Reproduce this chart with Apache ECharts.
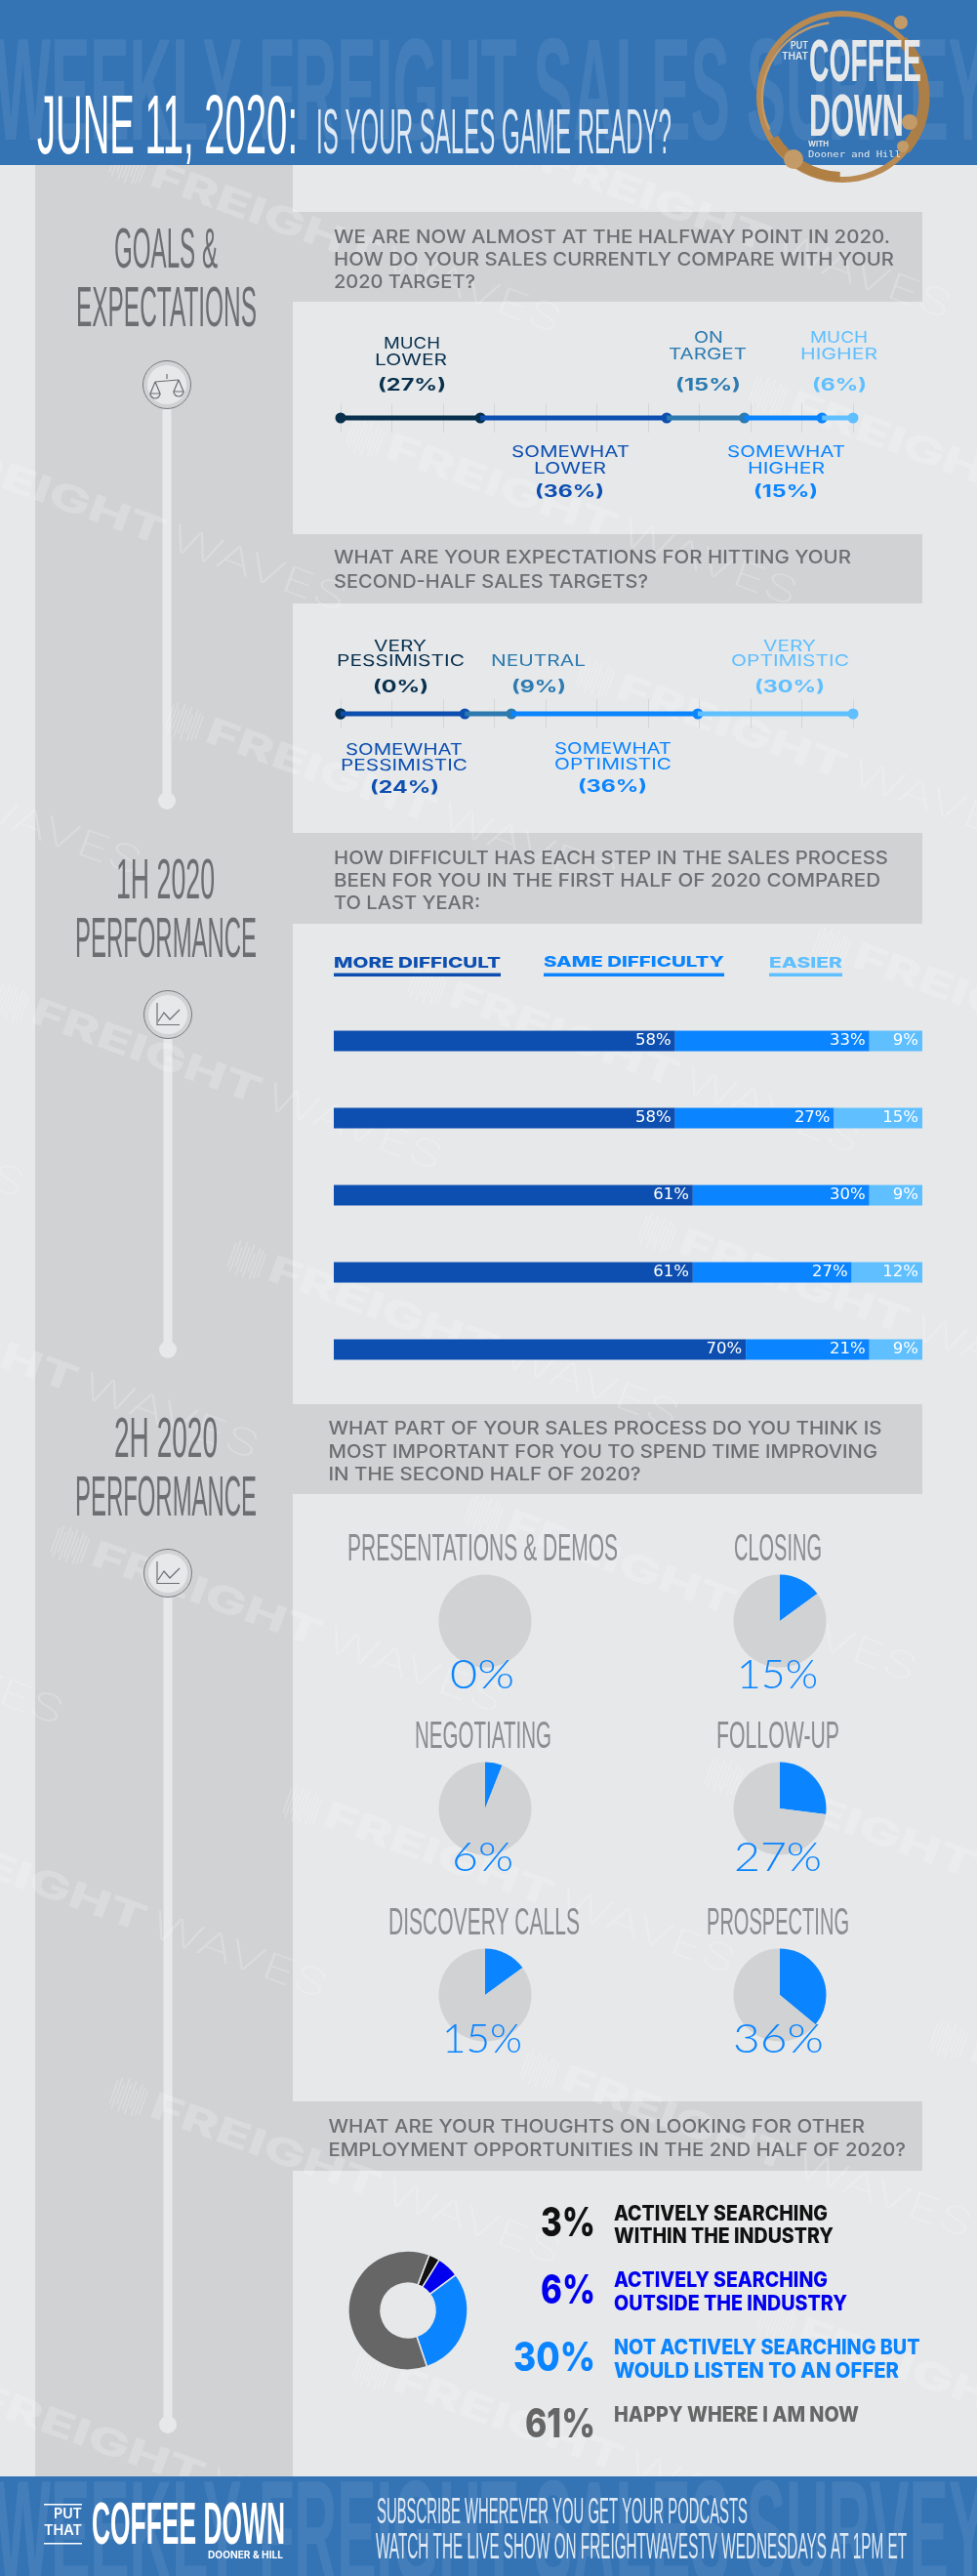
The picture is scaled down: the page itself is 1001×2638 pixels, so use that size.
<!DOCTYPE html>
<html>
<head>
<meta charset="utf-8">
<style>html,body{margin:0;padding:0;background:#e6e8ea}#main{width:1001px;height:2638px}</style>
<script src="https://cdn.jsdelivr.net/npm/echarts@6/dist/echarts.min.js"></script>
</head>
<body>
<div id="main"></div>
<script>
// survey values
const q1Cats = ['MUCH LOWER', 'SOMEWHAT LOWER', 'ON TARGET', 'SOMEWHAT HIGHER', 'MUCH HIGHER'];
const q1Values = [27, 36, 15, 15, 6];
const q2Cats = ['VERY PESSIMISTIC', 'SOMEWHAT PESSIMISTIC', 'NEUTRAL', 'SOMEWHAT OPTIMISTIC', 'VERY OPTIMISTIC'];
const q2Values = [0, 24, 9, 36, 30];
const stepNames = ['Step 1', 'Step 2', 'Step 3', 'Step 4', 'Step 5'];
const moreDifficult = [58, 58, 61, 61, 70];
const sameDifficulty = [33, 27, 30, 27, 21];
const easier = [9, 15, 9, 12, 9];
const focusCats = ['PRESENTATIONS & DEMOS', 'CLOSING', 'NEGOTIATING', 'FOLLOW-UP', 'DISCOVERY CALLS', 'PROSPECTING'];
const focusValues = [0, 15, 6, 27, 15, 36];
const jobCats = [['ACTIVELY SEARCHING', 'WITHIN THE INDUSTRY'], ['ACTIVELY SEARCHING', 'OUTSIDE THE INDUSTRY'], ['NOT ACTIVELY SEARCHING BUT', 'WOULD LISTEN TO AN OFFER'], ['HAPPY WHERE I AM NOW']];
const jobValues = [3, 6, 30, 61];
const questions = [
  ['WE ARE NOW ALMOST AT THE HALFWAY POINT IN 2020.', 'HOW DO YOUR SALES CURRENTLY COMPARE WITH YOUR', '2020 TARGET?'],
  ['WHAT ARE YOUR EXPECTATIONS FOR HITTING YOUR', 'SECOND-HALF SALES TARGETS?'],
  ['HOW DIFFICULT HAS EACH STEP IN THE SALES PROCESS', 'BEEN FOR YOU IN THE FIRST HALF OF 2020 COMPARED', 'TO LAST YEAR:'],
  ['WHAT PART OF YOUR SALES PROCESS DO YOU THINK IS', 'MOST IMPORTANT FOR YOU TO SPEND TIME IMPROVING', 'IN THE SECOND HALF OF 2020?'],
  ['WHAT ARE YOUR THOUGHTS ON LOOKING FOR OTHER', 'EMPLOYMENT OPPORTUNITIES IN THE 2ND HALF OF 2020?']
];

// colours
const BG = '#e6e8ea', PANEL = '#d0d2d4', HEAD = '#3474b5', GREY = '#6d6e71';
const tlColors = ['#08304d', '#0d4fb0', '#2c7ab0', '#0a84ff', '#5fbfff'];
const NARROW = '"Liberation Sans"', SANS = 'Inter';

const measure = document.createElement('canvas').getContext('2d');
const gfx = [];

// text squeezed or stretched so it spans x0..x1 like the reference lettering.
// cy is the middle of the capitals, the nudge moves the em box to match
function put(text, x0, x1, cy, size, family, weight, fill, z) {
  const font = weight + ' ' + size + 'px ' + family;
  measure.font = font;
  const w = measure.measureText(text).width;
  const el = {
    type: 'text', x: x0, y: cy + size * 0.08, scaleX: (x1 - x0) / w, z: z === undefined ? 10 : z, silent: true,
    style: { text, font, fill, align: 'left', verticalAlign: 'middle' }
  };
  gfx.push(el);
  return el;
}
function rect(x, y, w, h, fill, z) {
  gfx.push({ type: 'rect', shape: { x, y, width: w, height: h }, style: { fill }, z, silent: true });
}

// page panels
rect(36, 0, 264, 2638, PANEL, -10);
[[217, 92], [547, 71], [853, 93], [1438, 92], [2152, 71]].forEach(b => rect(300, b[0], 645, b[1], PANEL, -10));

// faint diagonal brand marks
const markStarts = [[160, 165], [560, 150], [402, 444], [815, 400], [-60, 450], [217, 735], [638, 690], [880, 965],
  [-270, 720], [466, 1005], [38, 1022], [-390, 1050], [281, 1286], [702, 1258], [-150, 1318], [100, 1578], [524, 1546],
  [-350, 1590], [770, 1815], [338, 1845], [-80, 1870], [1000, 2085], [581, 2115], [160, 2143], [-430, 2130], [824, 2373],
  [409, 2423], [-20, 2440]];
const barSizes = [26, 34, 22, 36, 28, 36, 20, 34, 30, 26];
markStarts.forEach(p => {
  const ink = 'rgba(255,255,255,0.2)';
  const kids = [];
  barSizes.forEach((h, i) => kids.push({ type: 'rect', z: -5, silent: true, shape: { x: -42 + i * 3.6, y: 14 - h / 2, width: 1.8, height: h }, style: { fill: ink } }));
  measure.font = '800 38px ' + SANS;
  const fw = measure.measureText('FREIGHT').width;
  kids.push({ type: 'text', x: 0, y: 14, scaleX: 248 / fw, z: -5, silent: true, style: { text: 'FREIGHT', font: '800 38px ' + SANS, fill: ink, align: 'left', verticalAlign: 'middle' } });
  measure.font = '200 38px ' + SANS;
  const ww = measure.measureText('WAVES').width;
  kids.push({ type: 'text', x: 256, y: 14, scaleX: 190 / ww, z: -5, silent: true, style: { text: 'WAVES', font: '200 38px ' + SANS, fill: ink, align: 'left', verticalAlign: 'middle' } });
  gfx.push({ type: 'group', x: p[0], y: p[1], rotation: -0.35, silent: true, children: kids });
});

// header and footer bands
rect(0, 0, 1001, 169, HEAD, -4);
rect(0, 2536, 1001, 102, HEAD, -4);
put('WEEKLY FREIGHT SALES SURVEY', -5, 1012, 90, 148, NARROW, 'bold', 'rgba(255,255,255,0.08)', -3);
put('WEEKLY FREIGHT SALES SURVEY', -5, 1012, 2591, 148, NARROW, 'bold', 'rgba(255,255,255,0.08)', -3);
put('JUNE 11, 2020:', 38, 305, 126, 86, NARROW, 'normal', '#ffffff');
put('IS YOUR SALES GAME READY?', 324, 688, 134, 64, NARROW, 'normal', '#dfe9f4');

// coffee ring logo
const RING = '#b98a52';
function arc(cx, cy, r, a0, a1, width, color) {
  gfx.push({ type: 'arc', z: 5, silent: true, shape: { cx, cy, r, startAngle: a0, endAngle: a1 }, style: { stroke: color, lineWidth: width, fill: 'none' } });
}
arc(863, 99, 85, 0, Math.PI * 2, 6, RING);
arc(858, 100, 77, 2.7, 4.6, 2.5, '#c49a66');
arc(863, 99, 84, -0.75, 0.7, 11, '#ad7f48');
arc(863, 99, 82, 1.6, 2.6, 10, '#b07f44');
[[923, 23, 7], [932, 125, 8], [813, 163, 10], [925, 150, 6]].forEach(b => {
  gfx.push({ type: 'circle', z: 5, silent: true, shape: { cx: b[0], cy: b[1], r: b[2] }, style: { fill: '#c39b68' } });
});
put('COFFEE', 829, 944, 61, 62, NARROW, 'bold', '#e6e8ea', 6);
put('DOWN', 829, 926, 117, 62, NARROW, 'bold', '#e6e8ea', 6);
put('PUT', 810, 828, 46, 10, SANS, '600', '#e6e8ea', 6);
put('THAT', 801, 828, 57, 10, SANS, '600', '#e6e8ea', 6);
put('WITH', 828, 849, 147, 8, SANS, '700', '#e6e8ea', 6);
put('Dooner and Hill', 828, 923, 158, 9, '"DejaVu Sans Mono"', 'normal', '#e6e8ea', 6);

// left column headings
put('GOALS &', 117, 223, 254, 57, NARROW, 'normal', GREY);
put('EXPECTATIONS', 78, 263, 314, 57, NARROW, 'normal', GREY);
put('1H 2020', 119, 220, 900, 57, NARROW, 'normal', GREY);
put('PERFORMANCE', 77, 263, 960, 57, NARROW, 'normal', GREY);
put('2H 2020', 117, 223, 1472, 57, NARROW, 'normal', GREY);
put('PERFORMANCE', 77, 263, 1532, 57, NARROW, 'normal', GREY);

// rails with their icons, icons built from polylines around the circle centre
const ICON_STROKE = { stroke: '#6d6e71', lineWidth: 1.2, fill: 'none' };
function chartIcon(x, y) {
  [[[-11, -12], [-11, 10.5], [12, 10.5]], [[-10, 7], [-4, -2], [2, 5], [12, -5]]].forEach(pts => {
    gfx.push({ type: 'polyline', z: 4, silent: true, x, y, shape: { points: pts }, style: ICON_STROKE });
  });
}
function scaleIcon(x, y) {
  [[[0, -11], [0, -6]], [[-12, -3], [12, -5]], [[-12, -3], [-17, 9], [-7, 9], [-12, -3]], [[12, -5], [7, 7], [17, 7], [12, -5]]].forEach(pts => {
    gfx.push({ type: 'polyline', z: 4, silent: true, x, y, shape: { points: pts }, style: ICON_STROKE });
  });
  [[-12, 9], [12, 7]].forEach(c => {
    gfx.push({ type: 'arc', z: 4, silent: true, x, y, shape: { cx: c[0], cy: c[1], r: 5, startAngle: 0, endAngle: Math.PI, clockwise: true }, style: ICON_STROKE });
  });
}
[[171, 394, 820, scaleIcon], [172, 1039, 1382, chartIcon], [172, 1611, 2483, chartIcon]].forEach(r => {
  const x = r[0], y = r[1], end = r[2];
  rect(x - 4.5, y, 9, end - y, BG, -9);
  gfx.push({ type: 'circle', z: -9, silent: true, shape: { cx: x, cy: end, r: 9 }, style: { fill: BG } });
  gfx.push({ type: 'circle', z: 3, silent: true, shape: { cx: x, cy: y, r: 24.5 }, style: { fill: PANEL, stroke: '#77797c', lineWidth: 1 } });
  gfx.push({ type: 'circle', z: 3, silent: true, shape: { cx: x, cy: y, r: 20 }, style: { fill: BG } });
  r[3](x, y);
});

// question bands
const qLines = [
  [[342, 912, 242], [342, 916, 265], [342, 487, 288]],
  [[342, 872, 570], [342, 664, 594.5]],
  [[342, 910, 877.5], [342, 902, 900.5], [342, 492, 923.5]],
  [[336.5, 903.5, 1462], [336.5, 899, 1486], [336.5, 656.5, 1509]],
  [[336.5, 886, 2177], [336.5, 928, 2201]]
];
questions.forEach((lines, i) => lines.forEach((t, j) => {
  const l = qLines[i][j];
  put(t, l[0], l[1], l[2], 19, SANS, '500', GREY);
}));

// timeline captions: [line 1], [line 2], [percent]
const q1Pos = [
  [[393, 451, 351], [384, 458, 368], [387, 457, 394]],
  [[524, 645, 462], [547, 621, 479], [548, 619, 503]],
  [[711, 741, 345], [685, 765, 362], [692, 759, 394]],
  [[745, 866, 462], [766, 845, 479], [772, 838, 503]],
  [[830, 889, 345], [820, 899, 362], [832, 888, 394]]
];
const q2Pos = [
  [[383, 437, 660.5], [345, 476, 676], [382, 439, 702.5]],
  [[354, 474, 767], [349, 479, 783.4], [379, 450, 806]],
  [[503, 600, 676], null, [524, 580, 702.5]],
  [[568, 688, 766], [568, 688, 782], [592, 663, 805]],
  [[782, 836, 660.5], [749, 870, 676], [773, 845, 702.5]]
];
function captions(cats, values, pos) {
  cats.forEach((c, i) => {
    const words = c.split(' ');
    const col = tlColors[i];
    words.forEach((w, j) => { const l = pos[i][j]; put(w, l[0], l[1], l[2], 16, SANS, '400', col); });
    const p = pos[i][2];
    put('(' + values[i] + '%)', p[0], p[1], p[2], 17, SANS, '700', col);
  });
}
captions(q1Cats, q1Values, q1Pos);
captions(q2Cats, q2Values, q2Pos);

// bar legend
const barColors = ['#0d4fb0', '#0a84ff', '#5fbfff'];
[['MORE DIFFICULT', 342, 513, 985.5], ['SAME DIFFICULTY', 557, 742, 984.5], ['EASIER', 788, 863, 985.5]].forEach((l, i) => {
  put(l[0], l[1], l[2], l[3], 15, SANS, '800', barColors[i]);
  rect(l[1], 996.5, l[2] - l[1], 3.5, barColors[i], 1);
});

// pie captions
const focusPos = [
  [[356, 633, 1584], [461, 527, 1712]], [[752, 842, 1584], [755, 838, 1712]],
  [[425, 565, 1776], [463, 526, 1899]], [[734, 860, 1776], [752, 842, 1899]],
  [[398, 594, 1967.5], [453, 535, 2085]], [[724, 870, 1967.5], [751, 844, 2085]]
];
focusCats.forEach((c, i) => {
  const t = focusPos[i][0], p = focusPos[i][1];
  put(c, t[0], t[1], t[2], 39, NARROW, 'normal', '#8b8d90');
  put(focusValues[i] + '%', p[0], p[1], p[2], 42, 'Lato', '300', '#0a84ff');
});

// donut captions
const jobColors = ['#111111', '#0000ee', '#0a84ff', '#666666'];
const jobPct = [[554, 2274], [554, 2343], [526, 2412], [538, 2480]];
const jobText = [
  [[629, 848, 2266], [629, 854, 2289]], [[629, 848, 2334], [629, 868, 2358]],
  [[629, 942.5, 2403], [629, 921, 2427]], [[629, 880, 2472]]
];
jobValues.forEach((v, i) => {
  put(v + '%', jobPct[i][0], 610, jobPct[i][1], 41, SANS, '800', jobColors[i]);
  jobCats[i].forEach((t, j) => { const l = jobText[i][j]; put(t, l[0], l[1], l[2], 21, SANS, '800', jobColors[i]); });
});

// footer
put('PUT', 55, 84, 2574, 14, SANS, '600', '#ffffff');
put('THAT', 45, 84, 2591, 14, SANS, '600', '#ffffff');
rect(45, 2564, 39, 1.5, '#ffffff', 10);
rect(45, 2604, 39, 1.5, '#ffffff', 10);
put('COFFEE DOWN', 94, 292, 2582.5, 62, NARROW, 'bold', '#ffffff');
put('DOONER & HILL', 213, 290, 2616.5, 10, SANS, '700', '#ffffff');
put('SUBSCRIBE WHEREVER YOU GET YOUR PODCASTS', 386, 766, 2571, 36, NARROW, 'normal', '#dfe9f4');
put('WATCH THE LIVE SHOW ON FREIGHTWAVESTV WEDNESDAYS AT 1PM ET', 385, 929, 2607, 36, NARROW, 'normal', '#dfe9f4');

// timeline series, one per answer, running along a 0..total axis
function timeline(values, gridIndex) {
  let run = 0;
  return values.map((v, i) => {
    const from = run;
    run += v;
    return {
      type: 'line', xAxisIndex: gridIndex, yAxisIndex: gridIndex, z: 3 + i, silent: true,
      lineStyle: { color: tlColors[i], width: 5 },
      itemStyle: { color: tlColors[i] }, symbolSize: 11, showSymbol: true,
      data: [{ value: [from, 0], symbol: i === 0 ? 'circle' : 'none' }, { value: [run, 0], symbol: 'circle' }]
    };
  });
}
function tlXAxis(gridIndex, values) {
  const total = values.reduce((a, b) => a + b, 0);
  return {
    type: 'value', gridIndex, min: 0, max: total, interval: total / 10,
    axisLine: { show: false }, axisTick: { show: false }, axisLabel: { show: false },
    splitLine: { show: true, lineStyle: { color: '#d4d6d8', width: 1 } }
  };
}
const hiddenY = i => ({ type: 'value', gridIndex: i, min: -1, max: 1, show: false });

const stacked = [[moreDifficult, 'More difficult'], [sameDifficulty, 'Same difficulty'], [easier, 'Easier']].map((s, i) => ({
  type: 'bar', name: s[1], stack: 'steps', xAxisIndex: 2, yAxisIndex: 2, barWidth: 21, silent: true,
  itemStyle: { color: barColors[i] }, data: s[0],
  label: { show: true, position: 'insideRight', distance: 4, formatter: '{c}%', color: '#fff', fontFamily: '"DejaVu Sans"', fontSize: 16.5 }
}));

const pieCenters = [[497, 1660], [799, 1660], [497, 1852], [799, 1852], [497, 2043], [799, 2043]];
const pies = focusCats.map((c, i) => ({
  type: 'pie', name: c, center: pieCenters[i], radius: 47.5, startAngle: 90, silent: true,
  label: { show: false }, labelLine: { show: false },
  data: [{ value: focusValues[i], itemStyle: { color: '#0a84ff' } }, { value: 100 - focusValues[i], itemStyle: { color: PANEL } }]
}));

const donut = {
  type: 'pie', center: [418, 2366], radius: [28, 61], startAngle: 69, silent: true,
  label: { show: false }, labelLine: { show: false },
  itemStyle: { borderColor: BG, borderWidth: 1.5 },
  data: jobValues.map((v, i) => ({ value: v, name: jobCats[i].join(' '), itemStyle: { color: jobColors[i] } }))
};

const chart = echarts.init(document.getElementById('main'));
chart.setOption({
  animation: false,
  backgroundColor: BG,
  graphic: gfx,
  grid: [
    { left: 349, width: 525, top: 413, height: 30 },
    { left: 349, width: 525, top: 716, height: 30 },
    { left: 342, width: 603, top: 1026.5, height: 395 }
  ],
  xAxis: [
    tlXAxis(0, q1Values),
    tlXAxis(1, q2Values),
    { type: 'value', gridIndex: 2, min: 0, max: 100, show: false }
  ],
  yAxis: [
    hiddenY(0), hiddenY(1),
    { type: 'category', gridIndex: 2, inverse: true, data: stepNames, show: false }
  ],
  series: [...timeline(q1Values, 0), ...timeline(q2Values, 1), ...stacked, ...pies, donut]
});
</script>
</body>
</html>
